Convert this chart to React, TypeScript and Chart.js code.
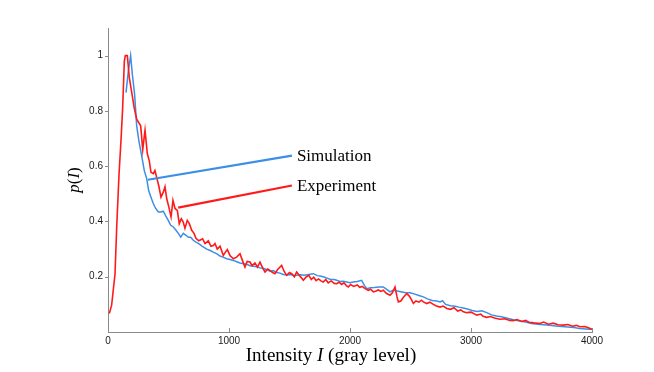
import React, { useEffect, useRef } from 'react';
import { Chart, registerables } from 'chart.js';

Chart.register(...registerables);

// ---- data ----
const experimentX = [
  11, 30, 58, 72, 91, 107, 121, 135, 143, 160, 176, 195, 217, 237, 270, 287, 306, 325, 341, 355,
  375, 388, 402, 419, 438, 457, 471, 485, 504, 521, 537, 554, 573, 589, 606, 622, 636, 655, 672, 692,
  711, 727, 750, 782, 802, 829, 851, 870, 884, 903, 926, 953, 970, 986, 1008, 1036, 1063, 1091, 1110, 1132,
  1150, 1174, 1190, 1215, 1235, 1256, 1280, 1298, 1320, 1340, 1360, 1380, 1400, 1435, 1455, 1476, 1500, 1520, 1540, 1559,
  1580, 1600, 1614, 1640, 1660, 1680, 1700, 1720, 1740, 1760, 1779, 1800, 1820, 1845, 1870, 1890, 1910, 1930, 1950, 1970,
  1986, 2005, 2030, 2060, 2080, 2100, 2125, 2151, 2170, 2193, 2215, 2235, 2255, 2275, 2300, 2331, 2350, 2372, 2388, 2400,
  2420, 2440, 2469, 2490, 2510, 2524, 2545, 2570, 2590, 2606, 2634, 2660, 2689, 2710, 2744, 2770, 2800, 2830, 2860, 2890,
  2915, 2937, 2965, 3000, 3047, 3080, 3100, 3130, 3160, 3200, 3240, 3280, 3320, 3350, 3380, 3420, 3450, 3480, 3520, 3570,
  3600, 3640, 3680, 3720, 3763, 3800, 3840, 3870, 3901, 3940, 3970, 4000,
];
const experimentY = [
  0.067, 0.097, 0.21, 0.38, 0.57, 0.69, 0.81, 0.98, 1.0, 1.0, 0.92, 0.87, 0.81, 0.77, 0.746, 0.66, 0.73, 0.645, 0.62, 0.578,
  0.573, 0.584, 0.56, 0.53, 0.488, 0.506, 0.526, 0.483, 0.45, 0.416, 0.476, 0.447, 0.44, 0.392, 0.41, 0.398, 0.375, 0.404, 0.392, 0.368,
  0.357, 0.339, 0.33, 0.337, 0.32, 0.33, 0.31, 0.313, 0.32, 0.3, 0.31, 0.277, 0.289, 0.298, 0.277, 0.265, 0.271, 0.283, 0.26, 0.235,
  0.255, 0.253, 0.24, 0.25, 0.235, 0.253, 0.23, 0.217, 0.228, 0.222, 0.215, 0.211, 0.225, 0.241, 0.22, 0.205, 0.215, 0.21, 0.2, 0.217,
  0.205, 0.195, 0.187, 0.2, 0.205, 0.19, 0.198, 0.186, 0.192, 0.185, 0.181, 0.19, 0.178, 0.185, 0.176, 0.175, 0.18, 0.172, 0.178, 0.168,
  0.163, 0.172, 0.165, 0.17, 0.162, 0.165, 0.157, 0.151, 0.155, 0.145, 0.148, 0.152, 0.147, 0.151, 0.14, 0.133, 0.142, 0.163, 0.128, 0.109,
  0.112, 0.125, 0.139, 0.13, 0.115, 0.103, 0.112, 0.108, 0.115, 0.109, 0.103, 0.108, 0.1, 0.095, 0.09, 0.094, 0.085, 0.082, 0.088, 0.076,
  0.08, 0.073, 0.07, 0.072, 0.061, 0.065, 0.057, 0.053, 0.056, 0.05, 0.046, 0.048, 0.042, 0.041, 0.045, 0.038, 0.042, 0.035, 0.033, 0.031,
  0.036, 0.028, 0.032, 0.026, 0.025, 0.027, 0.021, 0.024, 0.019, 0.02, 0.015, 0.01,
];

const simulationX = [
  149, 168, 187, 201, 220, 237, 256, 278, 300, 320, 336, 355, 375, 394, 416, 438, 457, 477, 498, 518,
  540, 562, 581, 601, 622, 645, 664, 683, 705, 727, 750, 780, 816, 845, 870, 900, 926, 955, 981, 1008,
  1036, 1060, 1091, 1120, 1146, 1174, 1201, 1230, 1256, 1285, 1311, 1339, 1366, 1395, 1421, 1449, 1480, 1510, 1540, 1559,
  1590, 1620, 1660, 1697, 1730, 1760, 1779, 1810, 1840, 1870, 1890, 1917, 1945, 1973, 2000, 2027, 2060, 2096, 2120, 2138,
  2170, 2200, 2240, 2275, 2300, 2331, 2358, 2390, 2420, 2460, 2496, 2530, 2570, 2606, 2640, 2680, 2716, 2744, 2765, 2790,
  2830, 2870, 2900, 2937, 2970, 3010, 3050, 3090, 3130, 3170, 3210, 3250, 3300, 3350, 3400, 3450, 3500, 3550, 3600, 3650,
  3700, 3750, 3800, 3850, 3900, 3950, 3983, 4000,
];
const simulationY = [
  0.866, 0.944, 1.0, 0.933, 0.86, 0.746, 0.69, 0.638, 0.584, 0.555, 0.512, 0.488, 0.464, 0.447, 0.434, 0.434, 0.437, 0.42, 0.404, 0.386,
  0.38, 0.368, 0.357, 0.343, 0.357, 0.35, 0.343, 0.343, 0.332, 0.325, 0.32, 0.31, 0.3, 0.295, 0.289, 0.283, 0.275, 0.27, 0.265, 0.262,
  0.259, 0.255, 0.25, 0.247, 0.245, 0.24, 0.238, 0.236, 0.232, 0.23, 0.226, 0.22, 0.222, 0.215, 0.213, 0.208, 0.206, 0.208, 0.204, 0.205,
  0.207, 0.205, 0.208, 0.211, 0.204, 0.202, 0.2, 0.195, 0.19, 0.19, 0.187, 0.183, 0.184, 0.181, 0.178, 0.181, 0.183, 0.187, 0.168, 0.157,
  0.16, 0.161, 0.163, 0.163, 0.155, 0.145, 0.152, 0.148, 0.146, 0.142, 0.142, 0.138, 0.132, 0.127, 0.12, 0.114, 0.112, 0.109, 0.113, 0.1,
  0.095, 0.093, 0.09, 0.087, 0.083, 0.078, 0.074, 0.077, 0.07, 0.062, 0.058, 0.055, 0.05, 0.044, 0.04, 0.036, 0.031, 0.028, 0.026, 0.024,
  0.022, 0.02, 0.018, 0.016, 0.013, 0.011, 0.01, 0.01,
];

const xTicks = [0, 1000, 2000, 3000, 4000];
const yTicks = [0.2, 0.4, 0.6, 0.8, 1];
const seriesNames = ['Experiment', 'Simulation'];
// annotation pointers: [fromX, fromY, toX, toY] in data units
const simulationPointer = [330, 0.551, 1520, 0.638];
const experimentPointer = [580, 0.45, 1520, 0.53];

const RED = '#ff1a1a';
const BLUE = '#3c8fe6';
const AXIS = '#8a8a8a';

function drawMixed(ctx: CanvasRenderingContext2D, parts: [string, boolean][], size: number, cx: number, cy: number) {
  const fontFor = (it: boolean) => `${it ? 'italic ' : ''}${size}px "Liberation Serif", serif`;
  let total = 0;
  const widths = parts.map(([t, it]) => {
    ctx.font = fontFor(it);
    const w = ctx.measureText(t).width;
    total += w;
    return w;
  });
  let x = cx - total / 2;
  ctx.textAlign = 'left';
  ctx.textBaseline = 'middle';
  parts.forEach(([t, it], i) => {
    ctx.font = fontFor(it);
    ctx.fillText(t, x, cy);
    x += widths[i];
  });
}

const decorPlugin = {
  id: 'decor',
  afterDraw(chart: any) {
    const { ctx, chartArea, scales } = chart;
    const xs = scales.x;
    const ys = scales.y;
    ctx.save();
    // tick marks
    ctx.strokeStyle = AXIS;
    ctx.lineWidth = 1;
    xTicks.forEach((v) => {
      const px = Math.round(xs.getPixelForValue(v)) + 0.5;
      ctx.beginPath();
      ctx.moveTo(px, chartArea.bottom);
      ctx.lineTo(px, chartArea.bottom - 4);
      ctx.stroke();
    });
    yTicks.forEach((v) => {
      const py = Math.round(ys.getPixelForValue(v)) + 0.5;
      ctx.beginPath();
      ctx.moveTo(chartArea.left, py);
      ctx.lineTo(chartArea.left - 3, py);
      ctx.stroke();
    });
    // pointer lines
    const pointers: [number[], string][] = [
      [simulationPointer, BLUE],
      [experimentPointer, RED],
    ];
    pointers.forEach(([p, c]) => {
      ctx.strokeStyle = c;
      ctx.lineWidth = 2.2;
      ctx.beginPath();
      ctx.moveTo(xs.getPixelForValue(p[0]), ys.getPixelForValue(p[1]));
      ctx.lineTo(xs.getPixelForValue(p[2]), ys.getPixelForValue(p[3]));
      ctx.stroke();
    });
    // labels
    ctx.fillStyle = '#000';
    ctx.font = '17px "Liberation Serif", serif';
    ctx.textAlign = 'left';
    ctx.textBaseline = 'middle';
    ctx.fillText(seriesNames[1], xs.getPixelForValue(simulationPointer[2]) + 5, ys.getPixelForValue(simulationPointer[3]) + 1);
    ctx.fillText(seriesNames[0], xs.getPixelForValue(experimentPointer[2]) + 5, ys.getPixelForValue(experimentPointer[3]) + 1);
    // x title
    drawMixed(ctx, [['Intensity ', false], ['I', true], [' (gray level)', false]], 19, 331, 356);
    // y title
    ctx.save();
    ctx.translate(75, 180);
    ctx.rotate(-Math.PI / 2);
    drawMixed(ctx, [['p', true], ['(', false], ['I', true], [')', false]], 17, 0, 0);
    ctx.restore();
    ctx.restore();
  },
};

export default function App() {
  const ref = useRef<HTMLCanvasElement | null>(null);
  useEffect(() => {
    if (!ref.current) return;
    const chart = new Chart(ref.current, {
      type: 'line',
      data: {
        datasets: [
          {
            label: seriesNames[0],
            data: experimentX.map((x, i) => ({ x, y: experimentY[i] })),
            borderColor: RED,
            backgroundColor: RED,
            borderWidth: 1.6,
            pointRadius: 0,
            tension: 0,
          },
          {
            label: seriesNames[1],
            data: simulationX.map((x, i) => ({ x, y: simulationY[i] })),
            borderColor: BLUE,
            backgroundColor: BLUE,
            borderWidth: 1.5,
            pointRadius: 0,
            tension: 0,
          },
        ],
      },
      options: {
        animation: false,
        responsive: true,
        maintainAspectRatio: false,
        parsing: false as any,
        layout: { padding: { left: 68, right: 62, top: 28, bottom: 10 } },
        plugins: { legend: { display: false }, tooltip: { enabled: false } },
        scales: {
          x: {
            type: 'linear',
            min: 0,
            max: 4000,
            afterBuildTicks: (s: any) => {
              s.ticks = xTicks.map((v) => ({ value: v }));
            },
            afterFit: (s: any) => {
              s.height = 30;
            },
            ticks: {
              autoSkip: false,
              maxRotation: 0,
              padding: 3,
              color: '#1a1a1a',
              font: { family: '"Liberation Sans", Arial, sans-serif', size: 10 },
              callback: (v: any) => String(v),
            },
            grid: { display: false, drawTicks: false },
            border: { display: true, color: AXIS, width: 1 },
          },
          y: {
            type: 'linear',
            min: 0,
            max: 1.1,
            afterBuildTicks: (s: any) => {
              s.ticks = yTicks.map((v) => ({ value: v }));
            },
            afterFit: (s: any) => {
              s.width = 40;
            },
            ticks: {
              autoSkip: false,
              padding: 5,
              color: '#1a1a1a',
              font: { family: '"Liberation Sans", Arial, sans-serif', size: 10 },
              callback: (v: any) => String(v),
            },
            grid: { display: false, drawTicks: false },
            border: { display: true, color: AXIS, width: 1 },
          },
        },
      },
      plugins: [decorPlugin],
    });
    return () => chart.destroy();
  }, []);
  return (
    <div style={{ position: 'fixed', left: 0, top: 0, width: 654, height: 372, background: '#fff' }}>
      <canvas ref={ref} />
    </div>
  );
}
